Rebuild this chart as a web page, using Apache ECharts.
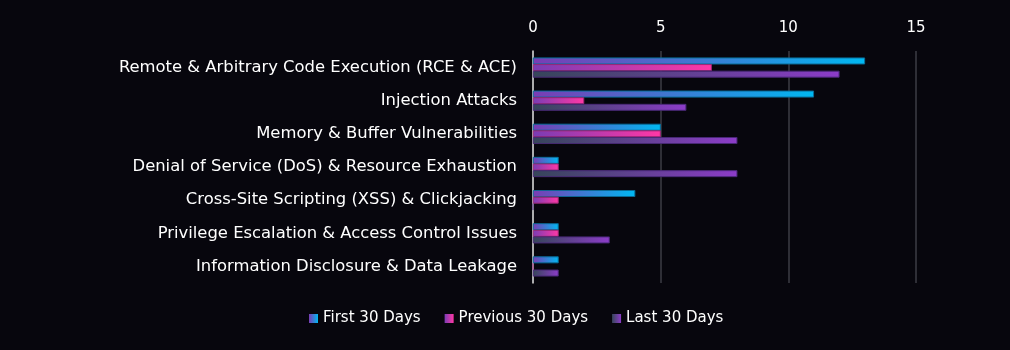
<!DOCTYPE html>
<html>
<head>
<meta charset="utf-8">
<script src="https://cdn.jsdelivr.net/npm/echarts@6/dist/echarts.min.js"></script>
<style>
html,body{margin:0;padding:0;background:#07060d;}
#Charts{width:1010px;height:350px;}
</style>
</head>
<body>
<div id="Charts"></div>
<script>
var categories = [
	'Remote & Arbitrary Code Execution (RCE & ACE)',
	'Injection Attacks',
	'Memory & Buffer Vulnerabilities',
	'Denial of Service (DoS) & Resource Exhaustion',
	'Cross-Site Scripting (XSS) & Clickjacking',
	'Privilege Escalation & Access Control Issues',
	'Information Disclosure & Data Leakage'
];
var seriesNames = ['First 30 Days', 'Previous 30 Days', 'Last 30 Days'];
var firstDays = [13, 11, 5, 1, 4, 1, 1];
var previousDays = [7, 2, 5, 1, 1, 1, 0];
var lastDays = [12, 6, 8, 8, 0, 3, 1];
var xTicks = [0, 5, 10, 15];

init();
function init(){
	var fontName = 'DejaVu Sans';
	function grad(c1, c2){
		return new echarts.graphic.LinearGradient(0, 0, 1, 0, [
			{offset: 0, color: c1},
			{offset: 1, color: c2}
		]);
	}
	var fills = [
		grad('#7a3cb4', '#00b8f2'),
		grad('#7a3cb4', '#ff38a6'),
		grad('#36465a', '#8c3cc8')
	];
	var borders = ['#0a6e9a', '#a02a78', '#4a2a78'];
	var datas = [firstDays, previousDays, lastDays];
	var series = [];
	for (var i = 0; i < datas.length; i++) {
		series.push({
			name: seriesNames[i],
			type: 'bar',
			data: datas[i],
			barGap: '0%',
			barCategoryGap: '40%',
			itemStyle: {
				color: fills[i],
				borderColor: borders[i],
				borderWidth: 0.6
			}
		});
	}
	var option = {
		backgroundColor: '#07060d',
		textStyle: {fontFamily: fontName},
		grid: {
			left: 533,
			right: 94,
			top: 51,
			bottom: 67
		},
		legend: {
			bottom: 19,
			left: 304,
			itemWidth: 9,
			itemHeight: 9,
			itemGap: 24,
			icon: 'rect',
			itemStyle: {borderWidth: 0},
			textStyle: {color: '#ffffff', fontSize: 15, fontFamily: fontName},
			data: seriesNames
		},
		xAxis: {
			type: 'value',
			position: 'top',
			min: xTicks[0],
			max: xTicks[xTicks.length - 1],
			interval: 5,
			axisLine: {show: false},
			axisTick: {show: false},
			axisLabel: {color: '#ffffff', fontSize: 15, margin: 15},
			splitLine: {show: true, lineStyle: {color: '#3c3c44', width: 1.5}}
		},
		yAxis: {
			type: 'category',
			inverse: true,
			data: categories,
			axisLine: {show: true, lineStyle: {color: '#d8d8d8', width: 1.5}},
			axisTick: {show: false},
			axisLabel: {color: '#ffffff', fontSize: 16.4, margin: 16}
		},
		series: series
	};
	var myChart = echarts.init(document.getElementById('Charts'));
	myChart.setOption(option);
}
</script>
</body>
</html>
